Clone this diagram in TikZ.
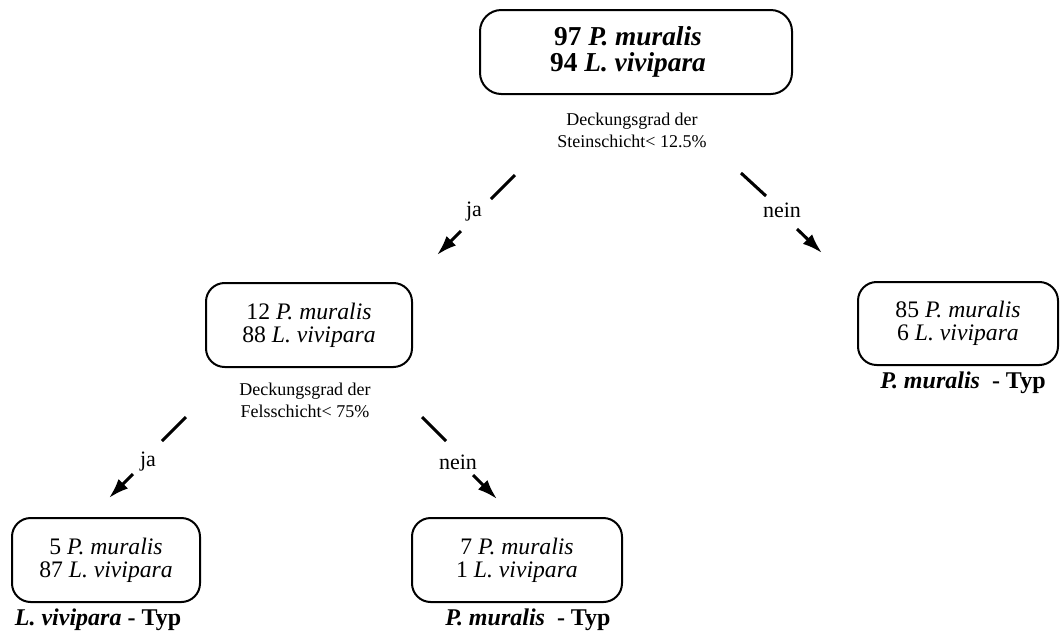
\documentclass[tikz,border=0pt]{standalone}
\usepackage{fontspec}
\setmainfont{Liberation Serif}
\usetikzlibrary{arrows.meta}
\begin{document}
\begin{tikzpicture}[x=0.75pt,y=-0.75pt,
  box/.style={draw, line width=1.5pt, rounded corners=14pt, inner sep=0pt, align=center,
    font=\fontsize{17.75pt}{17.5pt}\selectfont},
  topbox/.style={box, rounded corners=16pt, font=\fontsize{20.5pt}{19pt}\selectfont\bfseries},
  cond/.style={align=center, inner sep=0pt, font=\fontsize{13.5pt}{16.5pt}\selectfont},
  lab/.style={inner sep=0pt, font=\fontsize{16.5pt}{16.5pt}\selectfont},
  typ/.style={inner sep=0pt, font=\fontsize{18pt}{18pt}\selectfont\bfseries},
  seg/.style={line width=2.3pt},
  arr/.style={line width=2.3pt, -{Latex[length=15pt,width=10pt]}}
]
\useasboundingbox (0,0) rectangle (1060,637);

% nodes
\node[topbox, minimum width=234pt, minimum height=63pt] (top) at (636,52)
  {97 \textit{P. muralis}\hspace*{12pt}\\94 \textit{L. vivipara}\hspace*{12pt}};
\node[cond] (cond1) at (632,130) {Deckungsgrad der\\Steinschicht< 12.5\%};

\node[box, minimum width=154.5pt, minimum height=63pt] (left) at (309,325)
  {12 \textit{P. muralis}\\88 \textit{L. vivipara}};
\node[cond] (cond2) at (305,400) {Deckungsgrad der\\Felsschicht< 75\%};

\node[box, minimum width=150pt, minimum height=62.25pt] (right) at (958,323.5)
  {85 \textit{P. muralis}\\6 \textit{L. vivipara}};
\node[typ] (typR) at (963,383) {\textit{P. muralis}\ \ - Typ};

\node[box, minimum width=141pt, minimum height=63pt] (ll) at (106,560)
  {5 \textit{P. muralis}\\87 \textit{L. vivipara}};
\node[typ] (typLL) at (98,620) {\textit{L. vivipara} - Typ};

\node[box, minimum width=157.5pt, minimum height=63pt] (lm) at (517,560)
  {7 \textit{P. muralis}\\1 \textit{L. vivipara}};
\node[typ] (typLM) at (528,620) {\textit{P. muralis}\ \ - Typ};

% branch labels
\node[lab] (ja1) at (474,212) {ja};
\node[lab] (nein1) at (782,210) {nein};
\node[lab] (ja2) at (148,462) {ja};
\node[lab] (nein2) at (458,462) {nein};

% connector coordinates
\coordinate (a1) at (515,175); \coordinate (a2) at (491,199);
\coordinate (a3) at (461,231); \coordinate (a4) at (437,255);
\coordinate (b1) at (741,173); \coordinate (b2) at (766,196);
\coordinate (b3) at (797,229); \coordinate (b4) at (822,253);
\coordinate (c1) at (186,417); \coordinate (c2) at (162,441);
\coordinate (c3) at (133,474); \coordinate (c4) at (109,498);
\coordinate (d1) at (422,417); \coordinate (d2) at (446,441);
\coordinate (d3) at (473,475); \coordinate (d4) at (497,499);

\draw[seg] (a1) -- (a2); \draw[arr] (a3) -- (a4);
\draw[seg] (b1) -- (b2); \draw[arr] (b3) -- (b4);
\draw[seg] (c1) -- (c2); \draw[arr] (c3) -- (c4);
\draw[seg] (d1) -- (d2); \draw[arr] (d3) -- (d4);
\end{tikzpicture}
\end{document}
